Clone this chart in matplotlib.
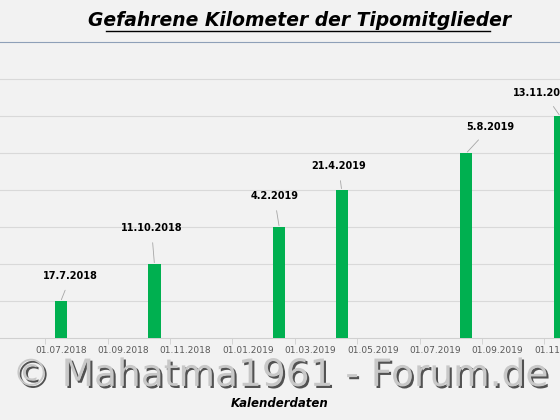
import matplotlib
matplotlib.use("Agg")
import matplotlib.pyplot as plt
import matplotlib.patheffects as pe

dates = ["17.7.2018", "11.10.2018", "4.2.2019", "21.4.2019", "5.8.2019", "13.11.2019"]
values = [1, 2, 3, 4, 5, 6]
tick_labels = ["01.07.2018", "01.09.2018", "01.11.2018", "01.01.2019", "01.03.2019",
               "01.05.2019", "01.07.2019", "01.09.2019", "01.11.2019"]
label_dx = [10, -3, -5, -3, 24, -16]   # px offsets of labels
label_dy = [25, 36, 31, 24, 26, 23]

def month_index(s):
    parts = s.split(".")
    return (int(parts[-1]) - 2018) * 12 + int(parts[-2]) - 7

xs = [month_index(d) for d in dates]
tick_x = [month_index(t) for t in tick_labels]

fig = plt.figure(figsize=(5.6, 4.2), dpi=100, facecolor="#f2f2f2")
ax = fig.add_axes([0, 1 - 338 / 420, 1, 296 / 420], facecolor="#f2f2f2")
ax.set_xlim(-1.95, 13.87)
ax.set_ylim(0, 8)
ax.set_yticks(range(1, 8))
ax.yaxis.grid(True, color="#d9d9d9", lw=0.8)
ax.set_axisbelow(True)
ax.tick_params(axis="y", left=False, labelleft=False)
for s in ["left", "right"]:
    ax.spines[s].set_visible(False)
ax.spines["top"].set_color("#8ea0b8")
ax.spines["bottom"].set_color("#d0d0d0")

ax.bar(xs, values, width=0.39, color="#00b050", zorder=3)
ax.set_xticks(tick_x)
ax.set_xticklabels(tick_labels, fontsize=6.5, color="#595959")
ax.set_xticks([t - 0.5 for t in tick_x], minor=True)
ax.tick_params(axis="x", which="major", length=0, pad=6)
ax.tick_params(axis="x", which="minor", length=4, color="#d0d0d0")

for x, v, d, dx, dy in zip(xs, values, dates, label_dx, label_dy):
    ax.annotate(d, xy=(x, v), xytext=(dx * 0.72, dy * 0.72), textcoords="offset points",
                ha="center", va="center", fontsize=7, fontweight="bold",
                arrowprops=dict(arrowstyle="-", color="#a6a6a6", lw=0.6,
                                shrinkA=5, shrinkB=1), zorder=4)

ax.set_xlabel("Kalenderdaten", fontsize=8.5, fontweight="bold", style="italic", labelpad=30)

fig.text(0.535, 0.952, "Gefahrene Kilometer der Tipomitglieder", ha="center", va="center",
         fontsize=13.5, fontweight="bold", style="italic")
fig.add_artist(plt.Line2D([106 / 560, 490 / 560], [1 - 31 / 420] * 2, color="black", lw=1))

fig.text(0.5, 0.105, "© Mahatma1961 - Forum.de", ha="center", va="center",
         fontsize=27, color="#c8c8c8",
         path_effects=[pe.SimplePatchShadow(offset=(1.5, -1.5), shadow_rgbFace="#404040", alpha=0.9),
                       pe.Normal()])

fig.savefig("out.png", dpi=100, facecolor=fig.get_facecolor())
